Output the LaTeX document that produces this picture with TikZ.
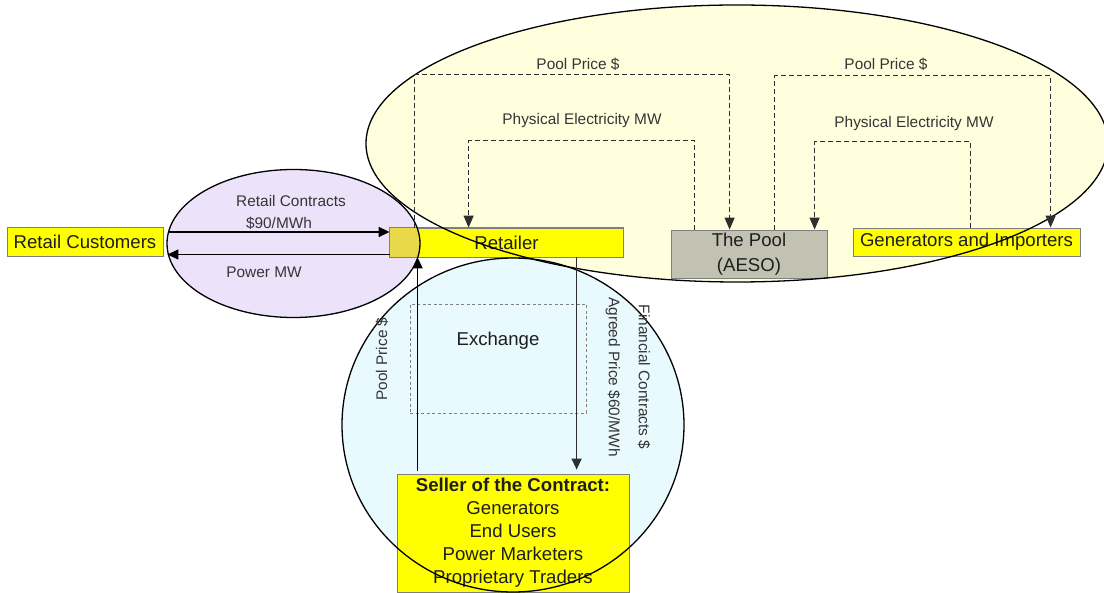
\documentclass[tikz,border=0pt]{standalone}
\usepackage{fontspec}
\setmainfont{Liberation Sans}
\usetikzlibrary{arrows.meta}

\definecolor{ink}{HTML}{1E1E1E}
\definecolor{labelink}{HTML}{353535}
\definecolor{arrowink}{HTML}{2E2E2E}
\definecolor{boxyellow}{HTML}{FFFF00}
\definecolor{edgegray}{HTML}{7F7F7F}
\definecolor{poolgray}{HTML}{C2C2B2}
\definecolor{poolzone}{HTML}{FFFFDE}
\definecolor{retailzone}{HTML}{ECE3FA}
\definecolor{exchzone}{HTML}{E9FAFE}
\definecolor{overlapyellow}{HTML}{E8D84A}

\newcommand\boxfont{\fontsize{18.6}{23}\selectfont}
\newcommand\labelfont{\fontsize{15.4}{18}\selectfont}

\begin{document}
\begin{tikzpicture}[x=1pt,y=-1pt,
  box/.style={draw=edgegray, line width=0.8pt, fill=boxyellow, inner sep=0pt,
              text=ink, font=\boxfont, align=center},
  lbl/.style={inner sep=0pt, text=labelink, font=\labelfont},
  zoneline/.style={draw=black, line width=1.3pt},
  solidarr/.style={draw=black, line width=1.4pt, -{Triangle[length=11pt,width=10pt]}},
  dasharr/.style={draw=arrowink, line width=1.1pt, dash pattern=on 5pt off 3pt,
                  -{Triangle[length=12pt,width=10pt]}},
  exchbox/.style={draw=gray, line width=0.7pt, dash pattern=on 3pt off 2.5pt,
                  inner sep=0pt}]
\useasboundingbox (0,0) rectangle (1104,593);

% market zones: fills first
\fill[poolzone] (737,143.5) ellipse [x radius=371, y radius=138.5];
\fill[retailzone] (293.5,243.5) ellipse [x radius=126.5, y radius=74];
\fill[exchzone] (513,425) ellipse [x radius=171, y radius=167];

% participants
\node[box, minimum width=156pt, minimum height=29pt] (rc) at (85,241.5) {Retail Customers};
\node[box, minimum width=233pt, minimum height=29pt] (ret) at (506.5,242.5) {};
\node[box, fill=poolgray, minimum width=156pt, minimum height=48pt,
      font=\fontsize{18.6}{24.5}\selectfont] (pool) at (749,254) {The Pool\\(AESO)};
\node[box, minimum width=227pt, minimum height=28pt] (gen) at (966.5,242) {Generators and Importers};
\node[box, minimum width=232pt, minimum height=118pt] (seller) at (513,533)
  {\textbf{Seller of the Contract:}\\Generators\\End Users\\Power Marketers\\Proprietary Traders};

% retailer end lying inside the retail zone
\begin{scope}
  \clip (293.5,243.5) ellipse [x radius=126.5, y radius=74];
  \fill[overlapyellow] (ret.south west) rectangle (ret.north east);
\end{scope}
\draw[edgegray, line width=0.8pt] (ret.south west) rectangle (ret.north east);
\node[inner sep=0pt, text=ink, font=\boxfont] (retlbl) at (ret.center) {Retailer};

% exchange
\node[exchbox, minimum width=176pt, minimum height=109pt] (exch) at (498,358.5) {};
\node[inner sep=0pt, text=ink, font=\boxfont] (exchlbl) at (498,341) {Exchange};

% zone outlines
\draw[zoneline] (737,143.5) ellipse [x radius=371, y radius=138.5];
\draw[zoneline] (293.5,243.5) ellipse [x radius=126.5, y radius=74];
\draw[zoneline] (513,425) ellipse [x radius=171, y radius=167];

% pool settlement flows
\draw[dasharr] ([xshift=25pt]ret.north west) -- ++(0,-153) -| ([xshift=59pt]pool.north west);
\draw[dasharr] ([xshift=24pt]pool.north west) -- ++(0,-89) -| ([xshift=79pt]ret.north west);
\draw[dasharr] ([xshift=104pt]pool.north west) -- ++(0,-154) -| ([xshift=198pt]gen.north west);
\draw[dasharr] ([xshift=118pt]gen.north west) -- ++(0,-86) -| ([xshift=144pt]pool.north west);

% retail flows
\draw[solidarr, shorten <=5pt] ([yshift=9.5pt]rc.east) -- ([yshift=9.5pt]rc.east -| ret.west);
\draw[solidarr, shorten >=4pt] ([yshift=-12pt]ret.west) -- ([yshift=-12pt]ret.west -| rc.east);

% contract flows
\draw[solidarr, shorten <=3pt] ([xshift=21pt]seller.north west) -- ([xshift=21pt]seller.north west |- ret.south);
\draw[solidarr, draw=arrowink, shorten >=4pt] ([xshift=187pt]ret.south west) -- ([xshift=187pt]ret.south west |- seller.north);

% flow labels
\node[lbl] (lpp1) at (578,64) {Pool Price \$};
\node[lbl] (lpe1) at (582,121) {Physical Electricity MW};
\node[lbl] (lpp2) at (886,64) {Pool Price \$};
\node[lbl] (lpe2) at (914,124) {Physical Electricity MW};
\node[lbl] (lrc) at (291,201) {Retail Contracts};
\node[lbl] (lrate) at (279,223) {\$90/MWh};
\node[lbl] (lpow) at (264,272) {Power MW};
\node[lbl, rotate=90] (lpool) at (382,359) {Pool Price \$};
\node[lbl, rotate=-90] (lagr) at (613,377) {Agreed Price \$60/MWh};
\node[lbl, rotate=-90] (lfin) at (644,377) {Financial Contracts \$};
\end{tikzpicture}
\end{document}
